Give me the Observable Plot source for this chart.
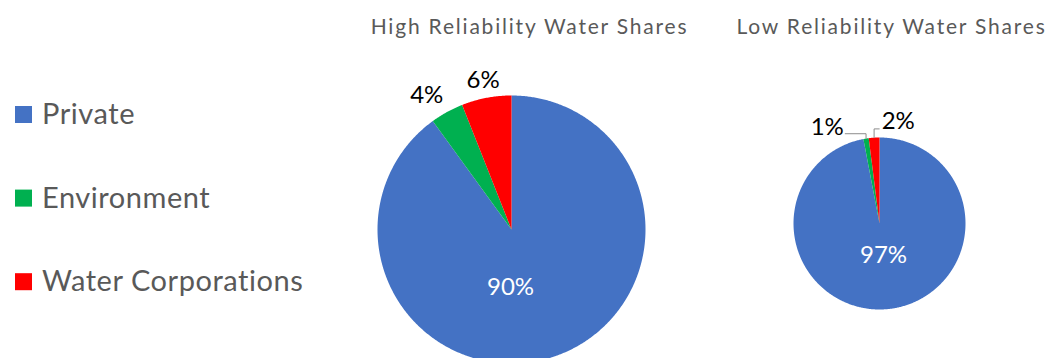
<!DOCTYPE html>
<html>
<head>
<meta charset="utf-8">
<script src="https://cdn.jsdelivr.net/npm/d3@7"></script>
<script src="https://cdn.jsdelivr.net/npm/@observablehq/plot@0.6"></script>
<style>
  html, body { margin: 0; padding: 0; background: #fff; overflow: hidden; }
  #chart svg { display: block; }
</style>
</head>
<body>
<div id="chart"></div>
<script>
// Share of water entitlements by holder type
const categories = ["Private", "Environment", "Water Corporations"];
const categoryColors = ["#4472C4", "#00B050", "#FF0000"];
const pieTitles = ["High Reliability Water Shares", "Low Reliability Water Shares"];
const highShares = [90, 4, 6];
const lowShares = [97, 1, 2];

// Layout (pixels): pie centres/radii, title anchor, label placement
const W = 1050, H = 358;
const FONT = "Lato, 'Open Sans', sans-serif";
const pies = [
  {title: pieTitles[0], shares: highShares, cx: 511, cy: 229, r: 134, titleX: 529,
   inside: 0.43, insideDx: -1, nudge: [0, -3.5, 0], leaders: false},
  {title: pieTitles[1], shares: lowShares, cx: 879, cy: 223, r: 86, titleX: 891,
   inside: 0.37, insideDx: 4, nudge: [0, -19.5, 14], leaders: true}
];

const rad = (a) => a * Math.PI / 180;
const polar = (p, a, rr) => [p.cx + rr * Math.sin(rad(a)), p.cy - rr * Math.cos(rad(a))];

// Slice outlines: centre -> arc (clockwise from 12 o'clock) -> centre
const slicePts = [];
const labels = [];
const leaders = [];
pies.forEach((p, pi) => {
  const total = d3.sum(p.shares);
  let a0 = 0;
  p.shares.forEach((v, ci) => {
    const a1 = a0 + 360 * v / total;
    const key = `${pi}-${ci}`;
    const pts = [[p.cx, p.cy]];
    const n = Math.max(2, Math.ceil((a1 - a0) / 0.5));
    for (let k = 0; k <= n; k++) pts.push(polar(p, a0 + (a1 - a0) * k / n, p.r));
    pts.push([p.cx, p.cy]);
    pts.forEach(([x, y]) => slicePts.push({key, cat: categories[ci], x, y}));

    const mid = (a0 + a1) / 2;
    const text = `${v}%`;
    if (ci === 0) {
      const [x, y] = polar(p, 180, p.r * p.inside);
      labels.push({x: x + p.insideDx, y, text, fill: "#ffffff"});
    } else {
      const la = mid + p.nudge[ci];
      const d = p.r + 14 + 20 * Math.abs(Math.sin(rad(la)));
      const [lx, ly] = polar(p, la, d);
      labels.push({x: lx, y: ly, text, fill: "#000000"});
      if (p.leaders) {
        const [sx, sy] = polar(p, mid, p.r);
        const half = 16;
        const ax = lx < sx ? lx + half + 2 : lx - half - 3;
        const ay = ly + (lx < sx ? 6.5 : 7.3);
        [[ax, ay], [sx, ay], [sx, sy]].forEach(([x, y]) => leaders.push({key, x, y}));
      }
    }
    a0 = a1;
  });
});

const legendRows = categories.map((c, i) => ({cat: c, y: 114 + i * 83.6}));

const chart = Plot.plot({
  width: W,
  height: H,
  margin: 0,
  style: {fontFamily: FONT, background: "#fff", overflow: "hidden"},
  x: {type: "identity", axis: null},
  y: {type: "identity", axis: null},
  color: {domain: categories, range: categoryColors},
  marks: [
    Plot.line(slicePts, {x: "x", y: "y", z: "key", fill: "cat", stroke: "none", curve: "linear"}),
    Plot.line(leaders, {x: "x", y: "y", z: "key", stroke: "#8c8c8c", strokeWidth: 1, curve: "linear"}),
    Plot.text(labels, {x: "x", y: "y", text: "text", fill: (d) => d.fill, fontSize: 24,
      fontFamily: FONT, lineAnchor: "middle", textAnchor: "middle"}),
    Plot.text(pies, {x: "titleX", y: () => 33, text: "title", fontSize: 21, fill: "#595959",
      fontFamily: FONT, lineAnchor: "bottom", textAnchor: "middle"}),
    Plot.dot(legendRows, {x: () => 23, y: "y", symbol: "square", r: 9.6, fill: "cat", stroke: "none"}),
    Plot.text(legendRows, {x: () => 41.5, y: (d) => d.y + 9.6, text: "cat", fontSize: 29,
      fill: "#595959", fontFamily: FONT, lineAnchor: "bottom", textAnchor: "start"})
  ]
});

// Wider tracking for the pie titles and legend entries
d3.select(chart).selectAll("text").each(function () {
  const t = this.textContent;
  if (pieTitles.includes(t)) this.style.letterSpacing = "1.8px";
  else if (categories.includes(t)) this.style.letterSpacing = "0.55px";
});

document.getElementById("chart").append(chart);
</script>
</body>
</html>
